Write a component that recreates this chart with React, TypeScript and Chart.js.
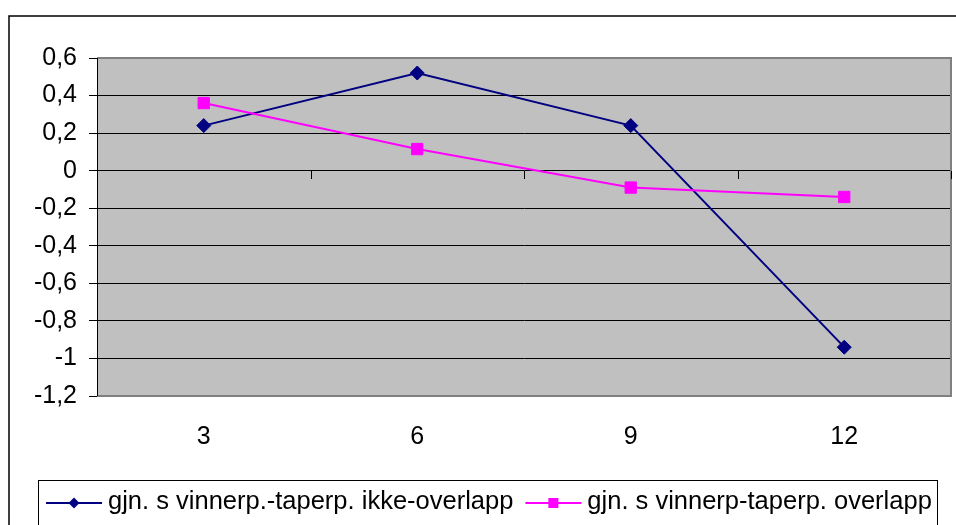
import { useEffect, useRef } from 'react';
import { Chart, registerables } from 'chart.js';

Chart.register(...registerables);

// Categories (months) and the two series
const months = ['3', '6', '9', '12'];
const ikkeOverlapp = [0.24, 0.52, 0.24, -0.94];
const overlapp = [0.36, 0.115, -0.09, -0.14];
const seriesNames = [
  'gjn. s vinnerp.-taperp. ikke-overlapp',
  'gjn. s vinnerp-taperp. overlapp',
];
const yMin = -1.2;
const yMax = 0.6;
const yStep = 0.2;

const FONT = '"Liberation Sans", Arial, sans-serif';

const fmt = (v: number) => String(Math.round(v * 10) / 10).replace('.', ',');

// Draws the outer frame, the grey plot area, the zero-line ticks and the boxed legend
const excelFrame = {
  id: 'excelFrame',
  beforeDraw(chart: any) {
    const { ctx, chartArea: a, width, height } = chart;
    ctx.save();
    ctx.fillStyle = '#ffffff';
    ctx.fillRect(0, 0, width, height);
    ctx.strokeStyle = '#000000';
    ctx.lineWidth = 1.5;
    ctx.strokeRect(9, 16, width + 20, height + 20);
    ctx.fillStyle = '#c0c0c0';
    ctx.fillRect(a.left, a.top, a.right - a.left, a.bottom - a.top);
    ctx.restore();
  },
  beforeDatasetsDraw(chart: any) {
    const { ctx, chartArea: a, scales } = chart;
    ctx.save();
    // plot area border
    ctx.strokeStyle = '#808080';
    ctx.lineWidth = 2;
    ctx.beginPath();
    ctx.moveTo(a.left, a.top);
    ctx.lineTo(a.right, a.top);
    ctx.lineTo(a.right, a.bottom);
    ctx.lineTo(a.left, a.bottom);
    ctx.stroke();
    // value axis line
    ctx.strokeStyle = '#000000';
    ctx.lineWidth = 1;
    ctx.beginPath();
    ctx.moveTo(a.left + 0.5, a.top);
    ctx.lineTo(a.left + 0.5, a.bottom);
    ctx.stroke();
    // category tick marks on the zero line
    const y0 = Math.round(scales.y.getPixelForValue(0));
    const n = months.length;
    const w = (a.right - a.left) / n;
    ctx.beginPath();
    for (let i = 1; i <= n; i++) {
      const x = Math.round(a.left + i * w) + 0.5;
      ctx.moveTo(x, y0);
      ctx.lineTo(x, y0 + 8);
    }
    ctx.stroke();
    ctx.restore();
  },
  afterDraw(chart: any) {
    const { ctx, height } = chart;
    ctx.save();
    // legend box
    ctx.strokeStyle = '#000000';
    ctx.lineWidth = 1;
    ctx.strokeRect(38.5, 480.5, 899, height);
    ctx.font = `25.5px ${FONT}`;
    ctx.textBaseline = 'alphabetic';
    ctx.textAlign = 'left';
    const ly = 503;
    let x = 46;
    chart.data.datasets.forEach((ds: any) => {
      ctx.strokeStyle = ds.borderColor;
      ctx.lineWidth = 2;
      ctx.beginPath();
      ctx.moveTo(x, ly);
      ctx.lineTo(x + 56, ly);
      ctx.stroke();
      const cx = x + 28;
      ctx.fillStyle = ds.pointBackgroundColor;
      ctx.beginPath();
      if (ds.pointStyle === 'rectRot') {
        ctx.moveTo(cx, ly - 5.5);
        ctx.lineTo(cx + 5.5, ly);
        ctx.lineTo(cx, ly + 5.5);
        ctx.lineTo(cx - 5.5, ly);
        ctx.closePath();
      } else {
        ctx.rect(cx - 5, ly - 5, 10, 10);
      }
      ctx.fill();
      ctx.fillStyle = '#000000';
      ctx.fillText(ds.label, x + 62, 509);
      x = x + 62 + ctx.measureText(ds.label).width + 12;
    });
    ctx.restore();
  },
};

export default function App() {
  const ref = useRef<HTMLCanvasElement | null>(null);

  useEffect(() => {
    if (!ref.current) return;
    const chart = new Chart(ref.current, {
      type: 'line',
      data: {
        labels: months,
        datasets: [
          {
            label: seriesNames[0],
            data: ikkeOverlapp,
            borderColor: '#000080',
            backgroundColor: '#000080',
            pointBackgroundColor: '#000080',
            pointBorderColor: '#000080',
            pointStyle: 'rectRot',
            pointRadius: 7,
            pointBorderWidth: 1,
            borderWidth: 2,
            tension: 0,
            order: 1,
          },
          {
            label: seriesNames[1],
            data: overlapp,
            borderColor: '#ff00ff',
            backgroundColor: '#ff00ff',
            pointBackgroundColor: '#ff00ff',
            pointBorderColor: '#ff00ff',
            pointStyle: 'rect',
            pointRadius: 8,
            pointBorderWidth: 1,
            borderWidth: 2,
            tension: 0,
            order: 0,
          },
        ],
      },
      options: {
        responsive: false,
        animation: false,
        devicePixelRatio: 1,
        layout: {
          autoPadding: false,
          padding: { top: 58, right: 5, left: 0, bottom: 0 },
        },
        plugins: {
          legend: { display: false },
          tooltip: { enabled: false },
          title: { display: false },
        },
        scales: {
          x: {
            type: 'category',
            offset: true,
            grid: { display: false, drawTicks: false },
            border: { display: false },
            ticks: {
              color: '#000000',
              font: { family: FONT, size: 25 },
              padding: 26,
              maxRotation: 0,
            },
            afterFit: (s: any) => {
              s.height = 129;
              s.paddingLeft = 0;
              s.paddingRight = 0;
            },
          },
          y: {
            min: yMin,
            max: yMax,
            grid: {
              color: '#000000',
              lineWidth: 1,
              drawTicks: true,
              tickLength: 8,
              tickColor: '#000000',
            },
            border: { display: true, color: '#000000', width: 1 },
            ticks: {
              stepSize: yStep,
              color: '#000000',
              font: { family: FONT, size: 25 },
              padding: 12,
              callback: (v: any) => fmt(Number(v)),
            },
            afterFit: (s: any) => {
              s.width = 97;
              s.paddingTop = 0;
              s.paddingBottom = 0;
            },
          },
        },
      },
      plugins: [excelFrame],
    });
    return () => chart.destroy();
  }, []);

  return (
    <canvas
      ref={ref}
      width={956}
      height={525}
      style={{ position: 'fixed', left: 0, top: 0, width: 956, height: 525 }}
    />
  );
}
